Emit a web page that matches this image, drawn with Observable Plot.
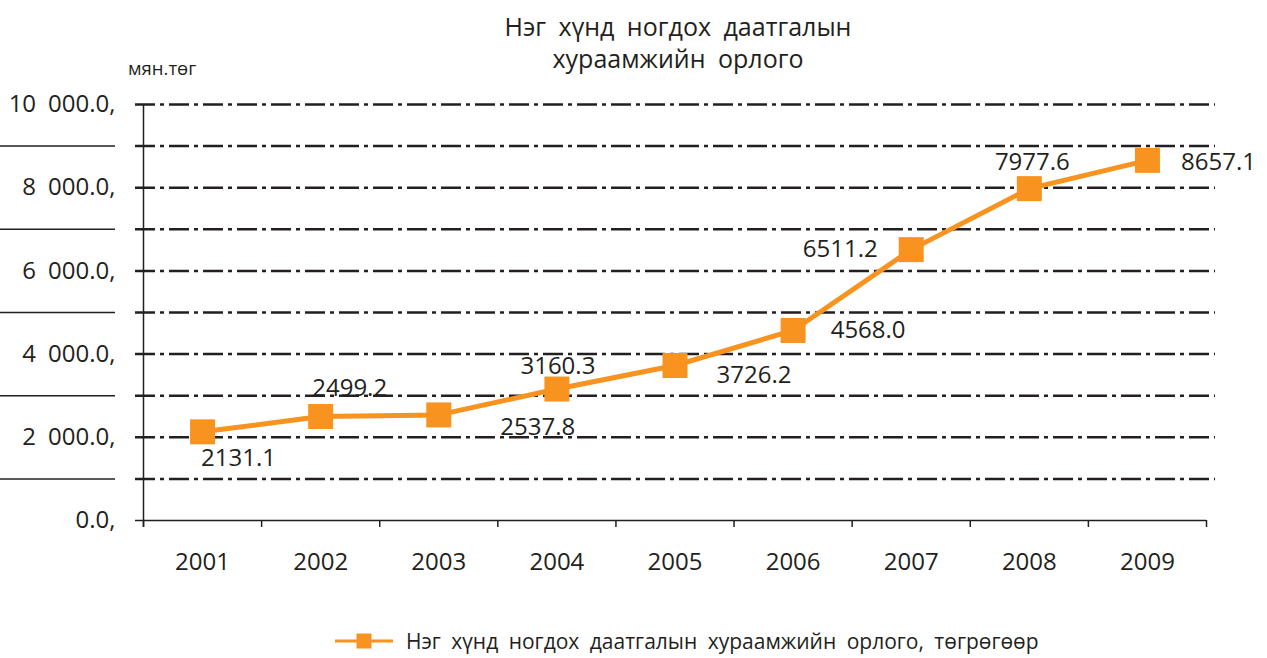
<!DOCTYPE html>
<html>
<head>
<meta charset="utf-8">
<script src="https://cdn.jsdelivr.net/npm/d3@7"></script>
<script src="https://cdn.jsdelivr.net/npm/@observablehq/plot@0.6"></script>
<style>
  body { margin: 0; background: #fff; }
  #wrap { position: relative; width: 1267px; height: 658px; font-family: "Open Sans", sans-serif; color: #231f20; overflow: hidden; }
  #chart { position: absolute; left: 0; top: 0; }
  #title { position: absolute; left: 678px; top: 10px; transform: translateX(-50%); text-align: center; font-size: 25px; line-height: 32px; word-spacing: 6px; white-space: nowrap; }
  #unit { position: absolute; left: 128px; top: 55px; font-size: 18.5px; white-space: nowrap; }
  #legend { position: absolute; left: 335px; top: 626px; height: 30px; display: flex; align-items: center; white-space: nowrap; font-size: 21px; word-spacing: 5px; }
  #legend svg { margin-right: 13px; }
</style>
</head>
<body>
<div id="wrap">
  <div id="chart"></div>
  <div id="title"></div>
  <div id="unit"></div>
  <div id="legend"></div>
</div>
<script>
// ---- data ----
const titleLines = ["Нэг хүнд ногдох даатгалын", "хураамжийн орлого"];
const unitLabel = "мян.төг";
const seriesName = "Нэг хүнд ногдох даатгалын хураамжийн орлого, төгрөгөөр";
const years = [2001, 2002, 2003, 2004, 2005, 2006, 2007, 2008, 2009];
const yearLabels = ["2001", "2002", "2003", "2004", "2005", "2006", "2007", "2008", "2009"];
const values = [2131.1, 2499.2, 2537.8, 3160.3, 3726.2, 4568.0, 6511.2, 7977.6, 8657.1];
const valueLabels = ["2131.1", "2499.2", "2537.8", "3160.3", "3726.2", "4568.0", "6511.2", "7977.6", "8657.1"];
const yTicks = [0, 2000, 4000, 6000, 8000, 10000];
const yTickLabels = ["0.0,", "2\u2002000.0,", "4\u2002000.0,", "6\u2002000.0,", "8\u2002000.0,", "10\u2002000.0,"];
const gridValues = [1000, 2000, 3000, 4000, 5000, 6000, 7000, 8000, 9000, 10000];
const oddValues = [1000, 3000, 5000, 7000, 9000];
const yearBounds = [2000.5, 2001.5, 2002.5, 2003.5, 2004.5, 2005.5, 2006.5, 2007.5, 2008.5, 2009.5];

// label placement offsets (pixels) per point
const labelOffsets = [[36, 26], [29, -28], [99, 12], [1, -23], [79, 10], [75, 0], [-71, 0], [3, -26], [71, 2]];

const ORANGE = "#F7931E";
const INK = "#231f20";

const data = years.map((y, i) => ({year: y, value: values[i], label: valueLabels[i]}));

document.getElementById("title").innerHTML = titleLines.join("<br>");
document.getElementById("unit").textContent = unitLabel;
document.getElementById("legend").innerHTML =
  `<svg width="58" height="20"><line x1="0" x2="58" y1="10" y2="10" stroke="${ORANGE}" stroke-width="3"/><rect x="21.5" y="2.5" width="15" height="15" fill="${ORANGE}"/></svg><span>${seriesName}</span>`;

const chart = Plot.plot({
  width: 1267,
  height: 658,
  marginLeft: 143,
  marginRight: 61,
  marginTop: 104,
  marginBottom: 138,
  style: {fontFamily: "'Open Sans', sans-serif", fontSize: "24px", color: INK, background: "transparent"},
  x: {type: "linear", domain: [2000.5, 2009.5], axis: null},
  y: {domain: [0, 10000], axis: null},
  marks: [
    // dash-dot gridlines
    Plot.ruleY(gridValues, {stroke: INK, strokeWidth: 2.5, strokeDasharray: "20,5,4,5", insetLeft: -8, insetRight: -9}),
    // solid separators in label column
    Plot.axisY({ticks: oddValues, tickSize: 115, dx: -28, tickFormat: () => "", label: null, stroke: INK, strokeWidth: 1.5}),
    // y labels
    Plot.axisY({ticks: yTicks, tickSize: 0, tickPadding: 28, label: null, tickFormat: d => yTickLabels[yTicks.indexOf(d)], fill: INK}),
    // axes lines
    Plot.ruleY([0], {stroke: INK, strokeWidth: 1.5, insetLeft: -8}),
    Plot.ruleX([2000.5], {stroke: INK, strokeWidth: 1.5, insetBottom: -7}),
    Plot.axisX({ticks: yearBounds, tickSize: 7, tickFormat: () => "", label: null, stroke: INK, strokeWidth: 1.5}),
    Plot.axisX({ticks: years, tickSize: 0, tickPadding: 32, label: null, tickFormat: d => yearLabels[years.indexOf(d)], fill: INK}),
    // series
    Plot.line(data, {x: "year", y: "value", stroke: ORANGE, strokeWidth: 5}),
    Plot.dot(data, {x: "year", y: "value", symbol: "square", r: 14.1, fill: ORANGE}),
    ...data.map((d, i) => Plot.text([d], {x: "year", y: "value", text: "label", dx: labelOffsets[i][0], dy: labelOffsets[i][1], fontSize: 24, fill: INK}))
  ]
});
document.getElementById("chart").appendChild(chart);
</script>
</body>
</html>
